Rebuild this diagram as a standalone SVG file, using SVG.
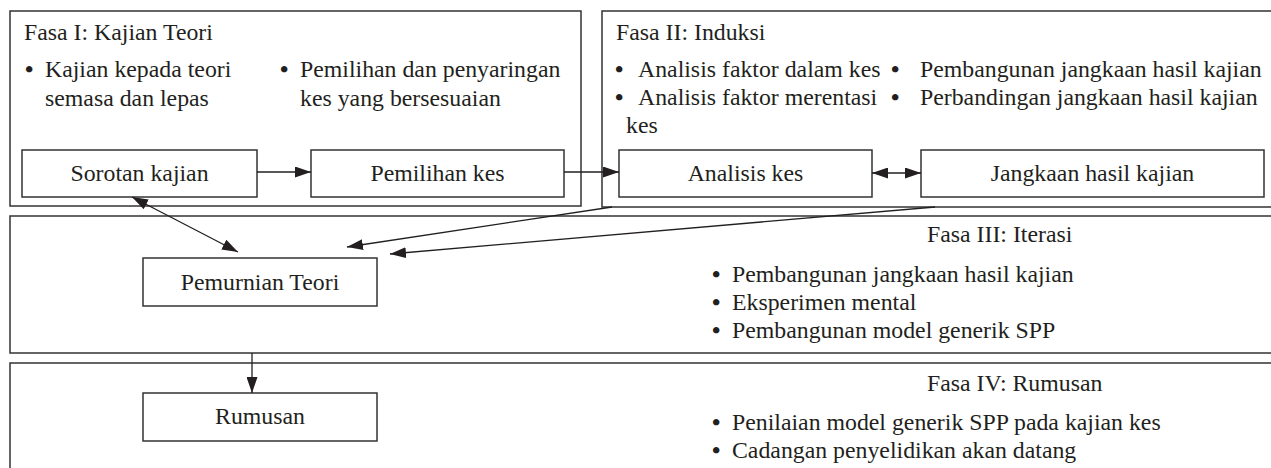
<svg xmlns="http://www.w3.org/2000/svg" width="1271" height="468" viewBox="0 0 1271 468">
<style>
  .frame { fill: #fff; stroke: #333; stroke-width: 1.5; }
  .box { fill: #fff; stroke: #333; stroke-width: 1.5; }
  .t { font-family: "Liberation Serif", "Times New Roman", serif; font-size: 23.8px; fill: #231f20; }
  .b { font-family: "Liberation Serif", "Times New Roman", serif; font-size: 23.8px; font-weight: bold; fill: #231f20; }
  .c { text-anchor: middle; }
  .edge { fill: none; stroke: #231f20; stroke-width: 1.3; }
</style>
<defs>
  <marker id="ah" viewBox="0 0 16 11" refX="16" refY="5.5" markerWidth="16" markerHeight="11" markerUnits="userSpaceOnUse" orient="auto-start-reverse">
    <path d="M0,0 L16,5.5 L0,11 Z" fill="#231f20"/>
  </marker>
</defs>
<rect width="1271" height="468" fill="#fff"/>

<g id="fasa1">
  <rect class="frame" x="10" y="11" width="571" height="195"/>
  <text class="t" x="24" y="40">Fasa I: Kajian Teori</text>
  <text class="b" x="25" y="77">•</text>
  <text class="t" x="45" y="77">Kajian kepada teori</text>
  <text class="t" x="45" y="106">semasa dan lepas</text>
  <text class="b" x="280" y="77">•</text>
  <text class="t" x="300" y="77">Pemilihan dan penyaringan</text>
  <text class="t" x="300" y="106">kes yang bersesuaian</text>
</g>
<g id="fasa2">
  <rect class="frame" x="602" y="11" width="700" height="196"/>
  <text class="t" x="616" y="40">Fasa II: Induksi</text>
  <text class="b" x="615" y="77">•</text>
  <text class="t" x="638" y="77">Analisis faktor dalam kes</text>
  <text class="b" x="615" y="105">•</text>
  <text class="t" x="638" y="105">Analisis faktor merentasi</text>
  <text class="t" x="626" y="133">kes</text>
  <text class="b" x="891" y="77">•</text>
  <text class="t" x="920" y="77">Pembangunan jangkaan hasil kajian</text>
  <text class="b" x="891" y="105">•</text>
  <text class="t" x="920" y="105">Perbandingan jangkaan hasil kajian</text>
</g>
<g id="fasa3">
  <rect class="frame" x="10" y="216" width="1300" height="137"/>
  <text class="t" x="927" y="242">Fasa III: Iterasi</text>
  <text class="b" x="712" y="282">•</text>
  <text class="t" x="732" y="282">Pembangunan jangkaan hasil kajian</text>
  <text class="b" x="712" y="310">•</text>
  <text class="t" x="732" y="310">Eksperimen mental</text>
  <text class="b" x="712" y="338">•</text>
  <text class="t" x="732" y="338">Pembangunan model generik SPP</text>
</g>
<g id="fasa4">
  <rect class="frame" x="10" y="363" width="1300" height="200"/>
  <text class="t" x="927" y="391">Fasa IV: Rumusan</text>
  <text class="b" x="712" y="430">•</text>
  <text class="t" x="732" y="430">Penilaian model generik SPP pada kajian kes</text>
  <text class="b" x="712" y="458">•</text>
  <text class="t" x="732" y="458">Cadangan penyelidikan akan datang</text>
</g>

<g id="sorotan">
  <rect class="box" x="22" y="150" width="235" height="47"/>
  <text class="t c" x="139.5" y="181">Sorotan kajian</text>
</g>
<g id="pemilihan">
  <rect class="box" x="311" y="150" width="253" height="47"/>
  <text class="t c" x="437.5" y="181">Pemilihan kes</text>
</g>
<g id="analisis">
  <rect class="box" x="619" y="150" width="253" height="47"/>
  <text class="t c" x="745.5" y="181">Analisis kes</text>
</g>
<g id="jangkaan">
  <rect class="box" x="921" y="150" width="343" height="47"/>
  <text class="t c" x="1092.5" y="181">Jangkaan hasil kajian</text>
</g>
<g id="pemurnian">
  <rect class="box" x="143" y="258" width="234" height="48"/>
  <text class="t c" x="260" y="290">Pemurnian Teori</text>
</g>
<g id="rumusan">
  <rect class="box" x="143" y="393" width="234" height="48"/>
  <text class="t c" x="260" y="424">Rumusan</text>
</g>

<g id="connectors">
  <line class="edge" x1="257" y1="172" x2="311" y2="172" marker-end="url(#ah)"/>
  <line class="edge" x1="564" y1="172" x2="619" y2="172" marker-end="url(#ah)"/>
  <line class="edge" x1="872" y1="173" x2="921" y2="173" marker-start="url(#ah)" marker-end="url(#ah)"/>
  <line class="edge" x1="132" y1="197" x2="238" y2="252" marker-start="url(#ah)" marker-end="url(#ah)"/>
  <line class="edge" x1="612" y1="207" x2="347" y2="247" marker-end="url(#ah)"/>
  <line class="edge" x1="935" y1="207" x2="390" y2="254" marker-end="url(#ah)"/>
  <line class="edge" x1="252" y1="353" x2="252" y2="393" marker-end="url(#ah)"/>
</g>
</svg>
